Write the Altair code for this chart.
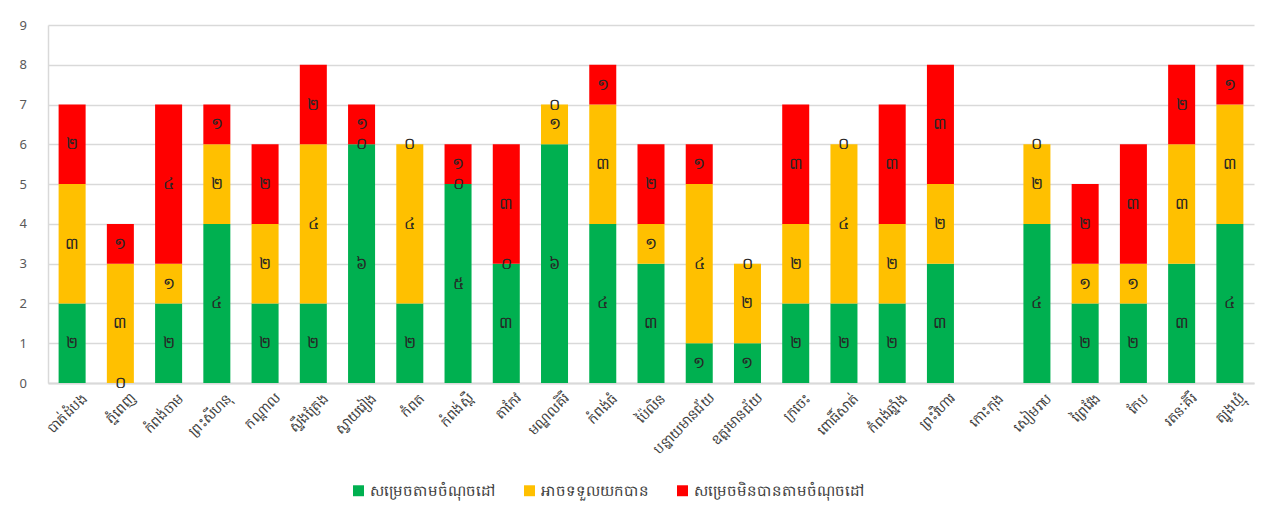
import altair as alt
import pandas as pd

provinces = ["បាត់ដំបង", "ភ្នំពេញ", "កំពង់ចាម", "ព្រះសីហនុ", "កណ្តាល", "ស្ទឹងត្រែង",
             "ស្វាយរៀង", "កំពត", "កំពង់ស្ពឺ", "តាកែវ", "មណ្ឌលគិរី", "កំពង់ធំ",
             "ប៉ៃលិន", "បន្ទាយមានជ័យ", "ឧត្តរមានជ័យ", "ក្រចេះ", "ពោធិ៍សាត់",
             "កំពង់ឆ្នាំង", "ព្រះវិហារ", "កោះកុង", "សៀមរាប", "ព្រៃវែង", "កែប",
             "រតនៈគិរី", "ត្បូងឃ្មុំ"]
achieved =     [2, 0, 2, 4, 2, 2, 6, 2, 5, 3, 6, 4, 3, 1, 1, 2, 2, 2, 3, None, 4, 2, 2, 3, 4]
acceptable =   [3, 3, 1, 2, 2, 4, 0, 4, 0, 0, 1, 3, 1, 4, 2, 2, 4, 2, 2, None, 2, 1, 1, 3, 3]
not_achieved = [2, 1, 4, 1, 2, 2, 1, 0, 1, 3, 0, 1, 2, 1, 0, 3, 0, 3, 3, None, 0, 2, 3, 2, 1]

series_names = ["សម្រេចតាមចំណុចដៅ", "អាចទទួលយកបាន", "សម្រេចមិនបានតាមចំណុចដៅ"]
series_colors = ["#00B050", "#FFC000", "#FF0000"]
y_ticks = list(range(10))

khmer_digits = str.maketrans("0123456789", "០១២៣៤៥៦៧៨៩")

rows = []
for i, p in enumerate(provinces):
    for k, vals in enumerate([achieved, acceptable, not_achieved]):
        v = vals[i]
        if v is None:
            continue
        rows.append({"province": p, "series": series_names[k], "order": k,
                     "value": v, "label": str(v).translate(khmer_digits)})
df = pd.DataFrame(rows)

FONT = "Noto Sans"

base = alt.Chart(df).transform_stack(
    stack="value", groupby=["province"], as_=["y0", "y1"],
    sort=[alt.SortField("order", order="ascending")]
).transform_calculate(mid="(datum.y0 + datum.y1) / 2")

xscale = alt.Scale(domain=provinces, paddingInner=0.44, paddingOuter=0.22)
yscale = alt.Scale(domain=[0, 9], nice=False, zero=True)

xaxis = alt.Axis(title=None, labelAngle=-45, labelFontSize=14, labelColor="#404040",
                 labelFont=FONT, ticks=False, domainColor="#d9d9d9", domainWidth=2,
                 labelPadding=8, labelOffset=8, labelLimit=200)
yaxis = alt.Axis(title=None, values=y_ticks, labelOverlap=False,
                 ticks=False, labelFontSize=13, labelColor="#595959", labelFont=FONT,
                 gridColor="#d9d9d9", gridWidth=1.5, domainColor="#d9d9d9",
                 domainWidth=1.5, labelPadding=29, labelAlign="left")

bars = base.mark_bar().encode(
    x=alt.X("province:N", sort=provinces, scale=xscale, axis=xaxis),
    y=alt.Y("y0:Q", scale=yscale, axis=yaxis),
    y2="y1:Q",
    color=alt.Color("series:N", sort=series_names,
                    scale=alt.Scale(domain=series_names, range=series_colors),
                    legend=alt.Legend(title=None, orient="none", direction="horizontal",
                                      legendX=303, legendY=458, symbolType="square",
                                      symbolSize=120, symbolStrokeWidth=0, labelFontSize=15,
                                      labelColor="#404040", labelFont=FONT, columnPadding=26,
                                      labelLimit=300)),
    order=alt.Order("order:Q"),
)

texts = base.mark_text(fontSize=16, color="#262626", font=FONT).encode(
    x=alt.X("province:N", sort=provinces, scale=xscale, axis=xaxis),
    y=alt.Y("mid:Q", scale=yscale, axis=yaxis),
    text="label:N",
)

chart = alt.layer(bars, texts).properties(
    width=1206, height=358,
    padding={"left": 40, "top": 17, "right": 10, "bottom": 120},
    autosize=alt.AutoSizeParams(type="none"),
    background="white",
).configure_view(stroke=None)

chart.save("out.html", embed_options={"renderer": "svg", "actions": False})
